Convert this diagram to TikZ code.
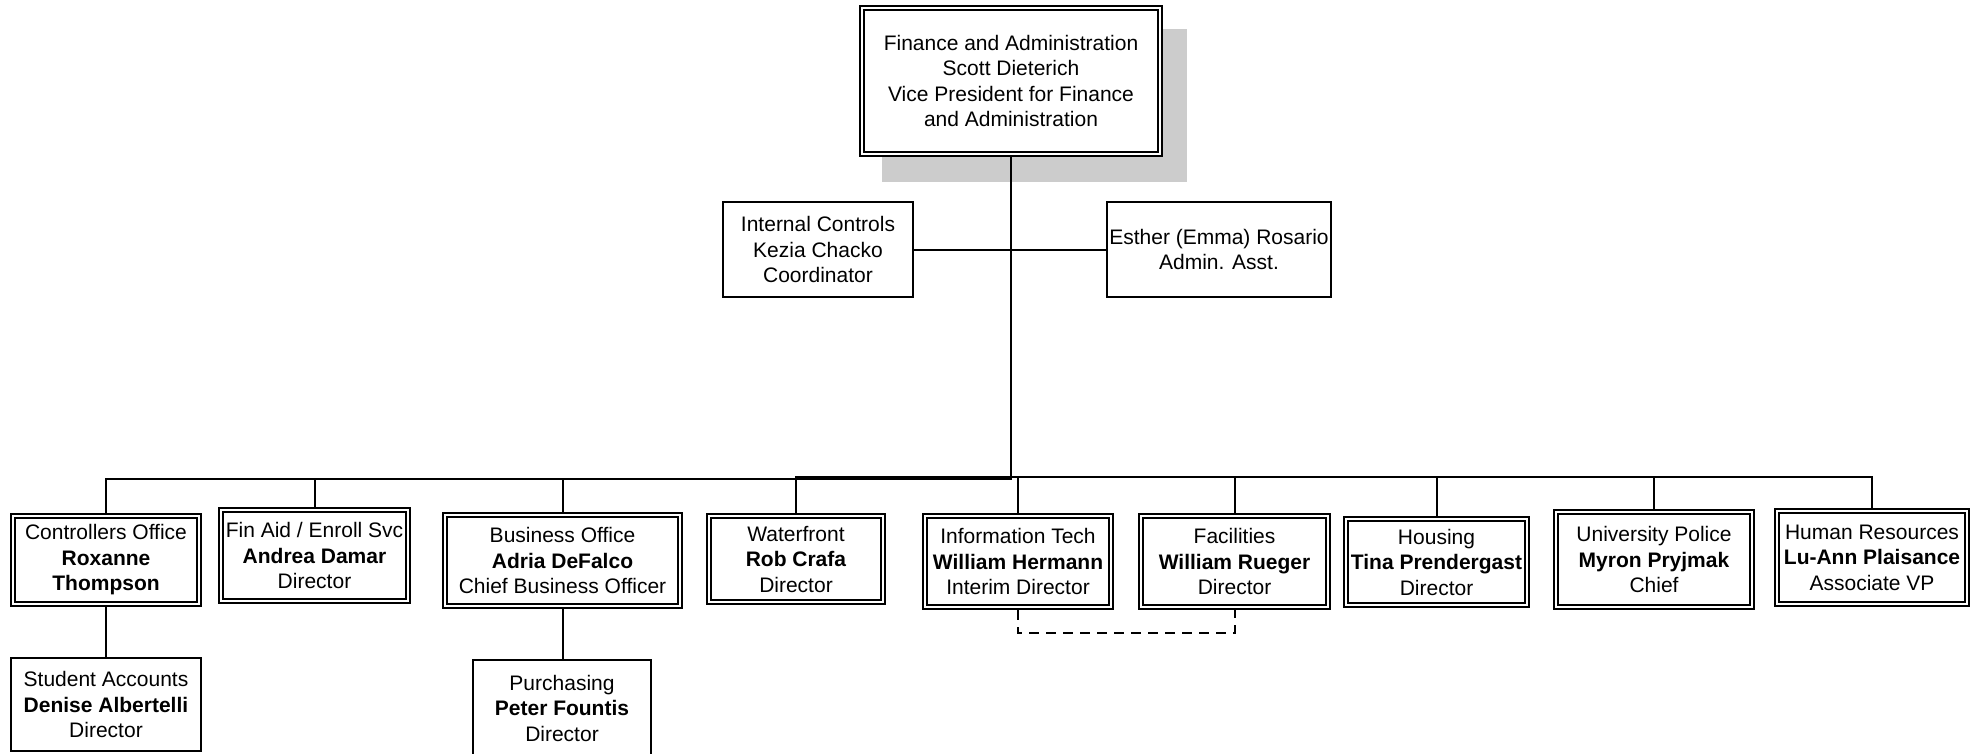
\documentclass[tikz,border=0pt]{standalone}
\usepackage{fontspec}
\setmainfont{Liberation Sans}
\begin{document}
\begin{tikzpicture}[x=1pt,y=-1pt,
 every node/.style={font=\fontsize{21}{25.5}\selectfont, align=center, inner sep=0pt},
 dbox/.style={draw, line width=1.6pt, double, double distance=2.4pt, outer sep=2.8pt, fill=white},
 sbox/.style={draw, line width=2pt, fill=white},
 conn/.style={line width=2pt},
 dashconn/.style={line width=2pt, dash pattern=on 10pt off 7pt}]
\useasboundingbox (0,0) rectangle (1980,754);
% shadow of top box
\fill[black!20] (882,29) rectangle (1187,182);
% top
\node[dbox, minimum width=298.4pt, minimum height=146.4pt] (top) at (1011,81)
 {Finance and Administration\\Scott Dieterich\\Vice President for Finance\\and Administration};
% staff
\node[sbox, minimum width=190pt, minimum height=95pt] (ic) at (818,249.5)
 {Internal Controls\\Kezia Chacko\\Coordinator};
\node[sbox, minimum width=224pt, minimum height=95pt] (es) at (1219,249.5)
 {Esther (Emma) Rosario\\Admin. Asst.};
% children
\node[dbox, minimum width=186.4pt, minimum height=88.4pt] (ctrl) at (106,560)
 {Controllers Office\\\textbf{Roxanne}\\\textbf{Thompson}};
\node[dbox, minimum width=187.4pt, minimum height=91.4pt] (finaid) at (314.5,555.5)
 {Fin Aid / Enroll Svc\\\textbf{Andrea Damar}\\Director};
\node[dbox, minimum width=235.4pt, minimum height=91.4pt] (bus) at (562.5,560.5)
 {Business Office\\\textbf{Adria DeFalco}\\Chief Business Officer};
\node[dbox, minimum width=174.4pt, minimum height=86.4pt] (water) at (796,559)
 {Waterfront\\\textbf{Rob Crafa}\\Director};
\node[dbox, minimum width=186.4pt, minimum height=91.4pt] (it) at (1018,561.5)
 {Information Tech\\\textbf{William Hermann}\\Interim Director};
\node[dbox, minimum width=187.4pt, minimum height=91.4pt] (fac) at (1234.5,561.5)
 {Facilities\\\textbf{William Rueger}\\Director};
\node[dbox, minimum width=181.4pt, minimum height=86.4pt] (hous) at (1436.5,562)
 {Housing\\\textbf{Tina Prendergast}\\Director};
\node[dbox, minimum width=196.4pt, minimum height=95.4pt] (pol) at (1654,559.5)
 {University Police\\\textbf{Myron Pryjmak}\\Chief};
\node[dbox, minimum width=190.4pt, minimum height=93.4pt] (hr) at (1872,557.5)
 {Human Resources\\\textbf{Lu-Ann Plaisance}\\Associate VP};
% grandchildren
\node[sbox, minimum width=190pt, minimum height=93pt] (sa) at (106,704.5)
 {Student Accounts\\\textbf{Denise Albertelli}\\Director};
\node[sbox, minimum width=178pt, minimum height=96pt] (pur) at (562,708)
 {Purchasing\\\textbf{Peter Fountis}\\Director};
% junction coordinates
\coordinate (jl) at (106,479);
\coordinate (jr) at (1872,477);
\coordinate (dl) at (1018,633);
% connectors
\draw[conn] (ic) -- (es);
\draw[conn] (top.south) -- (top.south |- jl) -- (jl) -- (ctrl.north);
\draw[conn] (water.north) -- (water.north |- jr) -- (jr) -- (hr.north);
\draw[conn] (finaid.north) -- (finaid.north |- jl);
\draw[conn] (bus.north) -- (bus.north |- jl);
\draw[conn] (it.north) -- (it.north |- jr);
\draw[conn] (fac.north) -- (fac.north |- jr);
\draw[conn] (hous.north) -- (hous.north |- jr);
\draw[conn] (pol.north) -- (pol.north |- jr);
\draw[conn] (ctrl.south) -- (sa.north);
\draw[conn] (bus.south) -- (bus.south |- pur.north);
\draw[dashconn] (it.south) -- (it.south |- dl) -| (fac.south);
\end{tikzpicture}
\end{document}
